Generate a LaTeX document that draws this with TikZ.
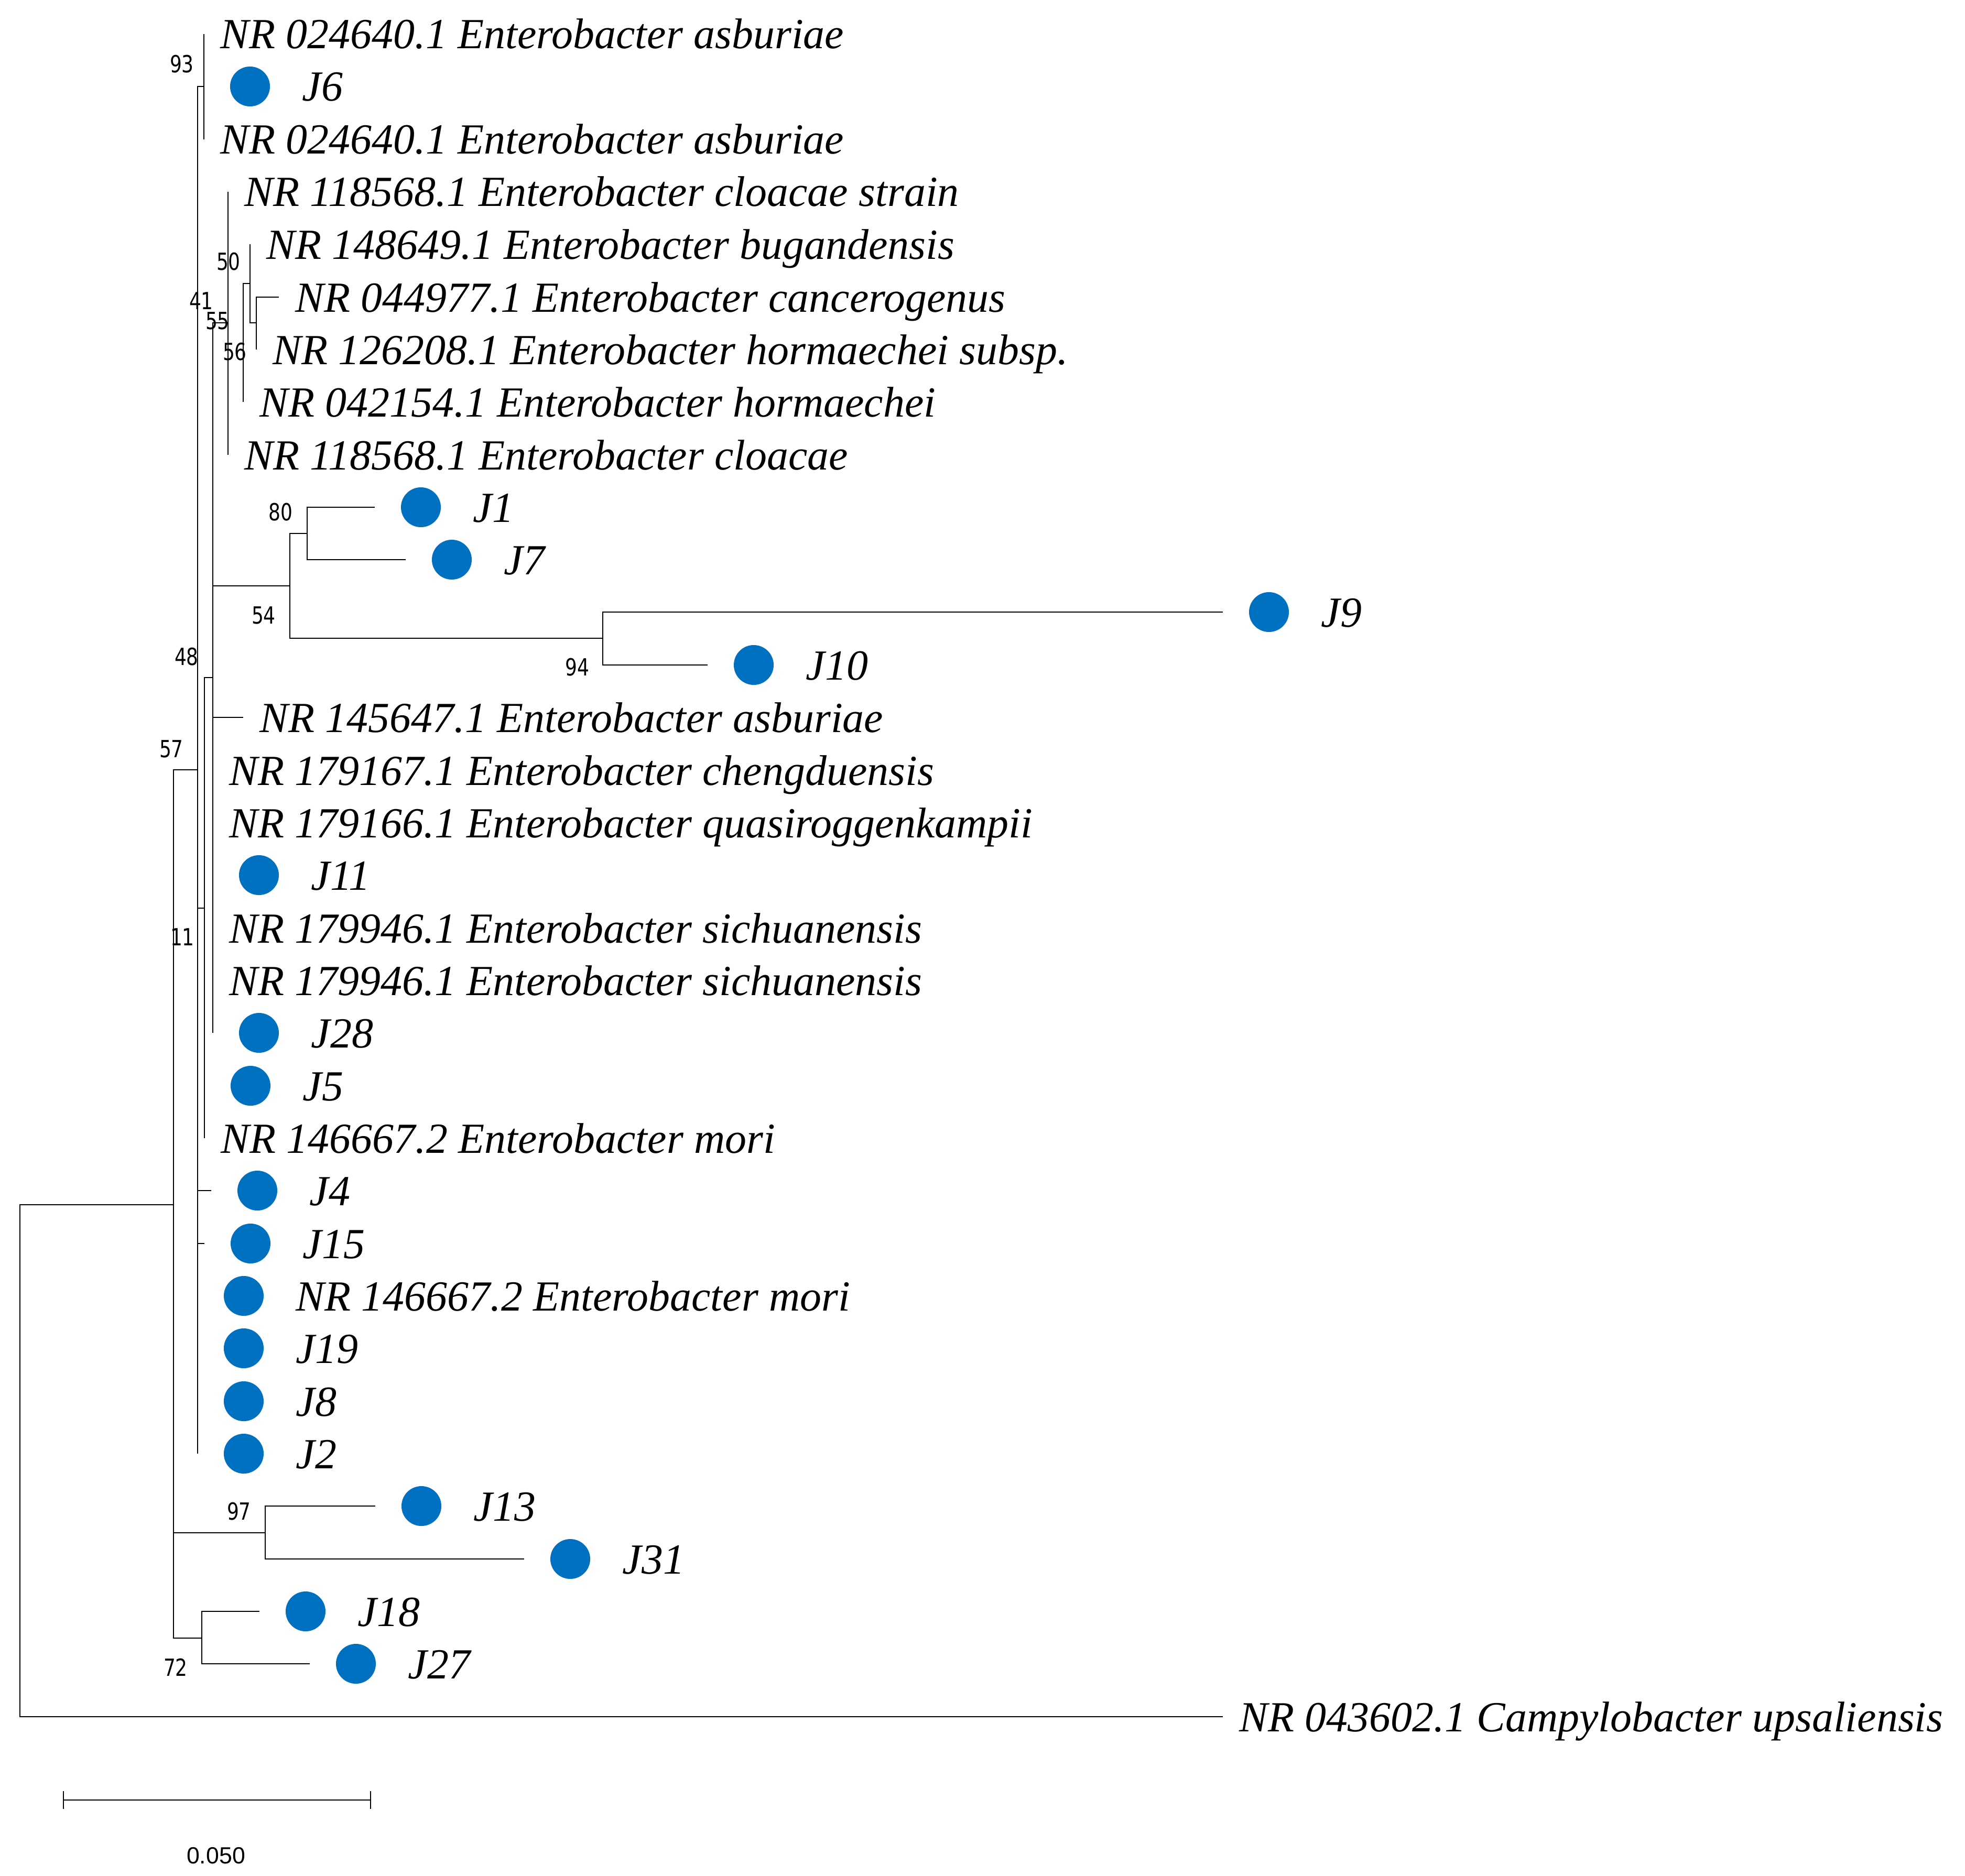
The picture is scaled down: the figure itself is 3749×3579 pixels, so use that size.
\documentclass[tikz,border=0pt]{standalone}
\usepackage{fontspec}
\setmainfont{Liberation Serif}
\newfontfamily\bsfont[FakeStretch=0.8]{DejaVu Sans}
\newfontfamily\sbfont{Liberation Sans}
\definecolor{dotblue}{RGB}{0,112,192}
\newcommand\TLeaf[4]{%
  \coordinate (t#1) at (#2,#3);
  \node[leaf] (L#1) at ({#2+31},{#3+28}) {#4};}
\newcommand\DLeaf[4]{%
  \coordinate (t#1) at (#2,#3);
  \node[blob] (D#1) at ({#2+88},#3) {};
  \node[leaf] (L#1) at ({#2+187},{#3+28}) {#4};}
\begin{document}
\begin{tikzpicture}[x=0.01cm, y=-0.01cm,
  br/.style={line width=0.4pt, black},
  leaf/.style={font=\itshape\fontsize{23.3pt}{28pt}\selectfont, anchor=base west, inner sep=0pt},
  blob/.style={circle, fill=dotblue, minimum size=0.76cm, inner sep=0pt},
  bs/.style={font=\bsfont\fontsize{12.8pt}{14pt}\selectfont, inner sep=0pt, anchor=center}]
\useasboundingbox (0,0) rectangle (3749,3579);

% leaves
\TLeaf{0}{389}{65}{NR 024640.1 Enterobacter asburiae}
\DLeaf{1}{389}{165}{J6}
\TLeaf{2}{389}{266}{NR 024640.1 Enterobacter asburiae}
\TLeaf{3}{435}{366}{NR 118568.1 Enterobacter cloacae strain}
\TLeaf{4}{477}{466}{NR 148649.1 Enterobacter bugandensis}
\TLeaf{5}{532}{567}{NR 044977.1 Enterobacter cancerogenus}
\TLeaf{6}{489}{667}{NR 126208.1 Enterobacter hormaechei subsp.}
\TLeaf{7}{464}{767}{NR 042154.1 Enterobacter hormaechei}
\TLeaf{8}{435}{868}{NR 118568.1 Enterobacter cloacae}
\DLeaf{9}{715}{968}{J1}
\DLeaf{10}{774}{1068}{J7}
\DLeaf{11}{2333}{1168}{J9}
\DLeaf{12}{1350}{1269}{J10}
\TLeaf{13}{464}{1369}{NR 145647.1 Enterobacter asburiae}
\TLeaf{14}{406}{1470}{NR 179167.1 Enterobacter chengduensis}
\TLeaf{15}{406}{1570}{NR 179166.1 Enterobacter quasiroggenkampii}
\DLeaf{16}{406}{1670}{J11}
\TLeaf{17}{406}{1771}{NR 179946.1 Enterobacter sichuanensis}
\TLeaf{18}{406}{1871}{NR 179946.1 Enterobacter sichuanensis}
\DLeaf{19}{406}{1971}{J28}
\DLeaf{20}{390}{2072}{J5}
\TLeaf{21}{390}{2172}{NR 146667.2 Enterobacter mori}
\DLeaf{22}{403}{2272}{J4}
\DLeaf{23}{390}{2373}{J15}
\DLeaf{24}{377}{2473}{NR 146667.2 Enterobacter mori}
\DLeaf{25}{377}{2573}{J19}
\DLeaf{26}{377}{2674}{J8}
\DLeaf{27}{377}{2774}{J2}
\DLeaf{28}{716}{2874}{J13}
\DLeaf{29}{1000}{2975}{J31}
\DLeaf{30}{495}{3075}{J18}
\DLeaf{31}{591}{3175}{J27}
\TLeaf{32}{2333}{3276}{NR 043602.1 Campylobacter upsaliensis}

% internal nodes
\coordinate (nR) at (38,2787);
\coordinate (n331) at (331,2299);
\coordinate (n377) at (377,1469);
\coordinate (n389) at (389,165);
\coordinate (n390) at (390,1733);
\coordinate (n406) at (406,1293);
\coordinate (n435) at (435,616);
\coordinate (n464) at (464,654);
\coordinate (n477) at (477,541);
\coordinate (n489) at (489,616);
\coordinate (n553) at (553,1118);
\coordinate (n586) at (586,1018);
\coordinate (n1150) at (1150,1218);
\coordinate (n506) at (506,2925);
\coordinate (n385) at (385,3126);

% branches
\draw[br] (nR) |- (n331);
\draw[br] (nR) |- (t32);
\foreach \c in {n377,n506,n385} \draw[br] (n331) |- (\c);
\foreach \c in {n389,n390,t22,t23,t24,t25,t26,t27} \draw[br] (n377) |- (\c);
\foreach \c in {t0,t1,t2} \draw[br] (n389) |- (\c);
\foreach \c in {n406,t20,t21} \draw[br] (n390) |- (\c);
\foreach \c in {n435,n553,t13,t14,t15,t16,t17,t18,t19} \draw[br] (n406) |- (\c);
\foreach \c in {t3,t8} \draw[br] (n435) |- (\c);
\foreach \c in {n477,t7} \draw[br] (n464) |- (\c);
\foreach \c in {t4,n489} \draw[br] (n477) |- (\c);
\foreach \c in {t5,t6} \draw[br] (n489) |- (\c);
\foreach \c in {n586,n1150} \draw[br] (n553) |- (\c);
\foreach \c in {t9,t10} \draw[br] (n586) |- (\c);
\foreach \c in {t11,t12} \draw[br] (n1150) |- (\c);
\foreach \c in {t28,t29} \draw[br] (n506) |- (\c);
\foreach \c in {t30,t31} \draw[br] (n385) |- (\c);

% bootstrap values
\node[bs] (b93) at (347,122) {93};
\node[bs] (b50) at (436,499) {50};
\node[bs] (b41) at (384,574) {41};
\node[bs] (b55) at (415,612) {55};
\node[bs] (b56) at (448,671) {56};
\node[bs] (b80) at (535,977) {80};
\node[bs] (b54) at (503,1174) {54};
\node[bs] (b94) at (1101,1273) {94};
\node[bs] (b48) at (356,1253) {48};
\node[bs] (b57) at (327,1429) {57};
\node[bs] (b11) at (348,1788) {11};
\node[bs] (b97) at (456,2884) {97};
\node[bs] (b72) at (335,3182) {72};

% scale bar
\coordinate (s1) at (121,3435);
\coordinate (s2) at (707,3435);
\draw[br] (s1) -- (s2);
\draw[br] (121,3418) -- (121,3452);
\draw[br] (707,3418) -- (707,3452);
\node[font=\sbfont\fontsize{12.7pt}{14pt}\selectfont, inner sep=0pt] (sl) at (412,3541) {0.050};
\end{tikzpicture}
\end{document}
